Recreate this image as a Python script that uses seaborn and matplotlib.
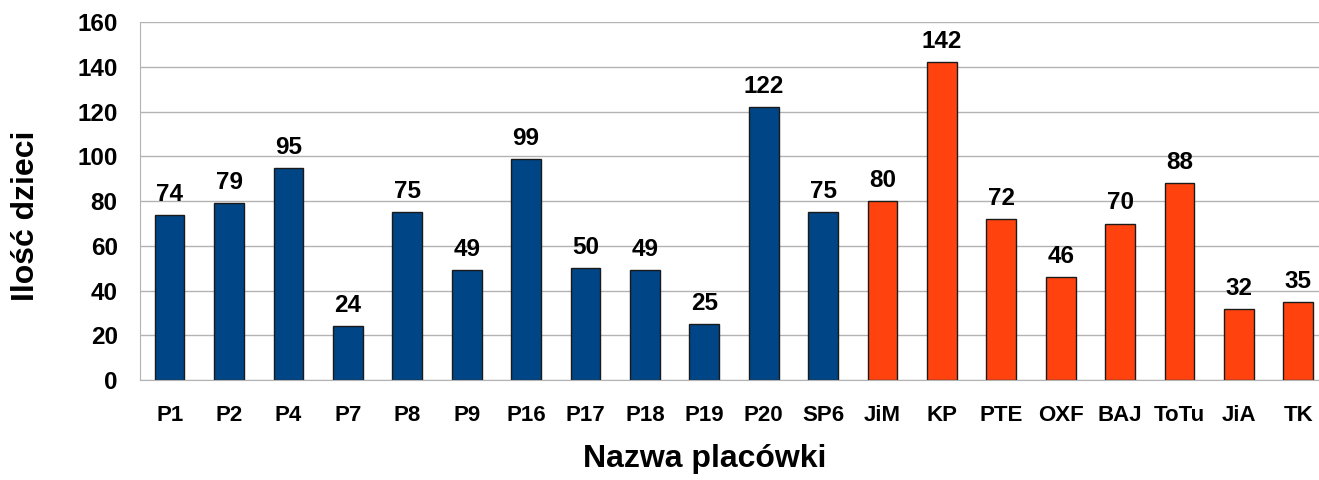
import numpy as np
import pandas as pd
import matplotlib
matplotlib.use("Agg")
import matplotlib.pyplot as plt
import seaborn as sns

placowki = ['P1', 'P2', 'P4', 'P7', 'P8', 'P9', 'P16', 'P17', 'P18', 'P19', 'P20', 'SP6',
            'JiM', 'KP', 'PTE', 'OXF', 'BAJ', 'ToTu', 'JiA', 'TK']
dzieci = [74, 79, 95, 24, 75, 49, 99, 50, 49, 25, 122, 75,
          80, 142, 72, 46, 70, 88, 32, 35]
grupa = ['publiczne'] * 12 + ['niepubliczne'] * 8

df = pd.DataFrame({'Nazwa placówki': placowki, 'Ilość dzieci': dzieci, 'grupa': grupa})

sns.set_style('white')
plt.rcParams['font.family'] = ['Liberation Sans', 'DejaVu Sans']
plt.rcParams['font.weight'] = 'bold'
plt.rcParams['text.color'] = 'black'
plt.rcParams['axes.labelcolor'] = 'black'

fig = plt.figure(figsize=(13.19, 4.8), dpi=100)
# plot area runs slightly past the right edge of the picture, as in the original
ax = fig.add_axes([0.1061, 0.208, 0.9007, 0.746])

palette = {'publiczne': '#004586', 'niepubliczne': '#ff420e'}
sns.barplot(data=df, x='Nazwa placówki', y='Ilość dzieci', hue='grupa', palette=palette,
            dodge=False, width=0.5, edgecolor='#1a1a1a', linewidth=1, legend=False,
            saturation=1, ax=ax)

for c in ax.containers:
    ax.bar_label(c, fontsize=17.5, fontweight='bold', padding=6.5, color='black')

ax.set_ylim(0, 160)
ax.set_yticks(range(0, 161, 20))
ax.set_xlim(-0.5, len(placowki) - 0.5)
ax.yaxis.grid(True, color='#b3b3b3', linewidth=1)
ax.set_axisbelow(True)

ax.set_xticks(np.arange(-0.5, len(placowki), 1), minor=True)
ax.tick_params(axis='x', which='major', length=0, pad=18, labelsize=16, labelcolor='black')
ax.tick_params(axis='x', which='minor', length=12, color='#b3b3b3', width=1)
ax.tick_params(axis='y', length=12, color='#b3b3b3', width=1, labelsize=17.5, pad=4,
               labelcolor='black')
for lab in ax.get_xticklabels() + ax.get_yticklabels():
    lab.set_fontweight('bold')

for s in ['top', 'right']:
    ax.spines[s].set_visible(False)
ax.spines['left'].set_color('#b3b3b3')
ax.spines['bottom'].set_color('#b3b3b3')

ax.set_xlabel('Nazwa placówki', fontsize=23, fontweight='bold')
ax.xaxis.set_label_coords(0.475, -0.179)
ax.set_ylabel('Ilość dzieci', fontsize=23, fontweight='bold')
ax.yaxis.set_label_coords(-0.0833, 0.458)

fig.savefig('out.png', dpi=100)
